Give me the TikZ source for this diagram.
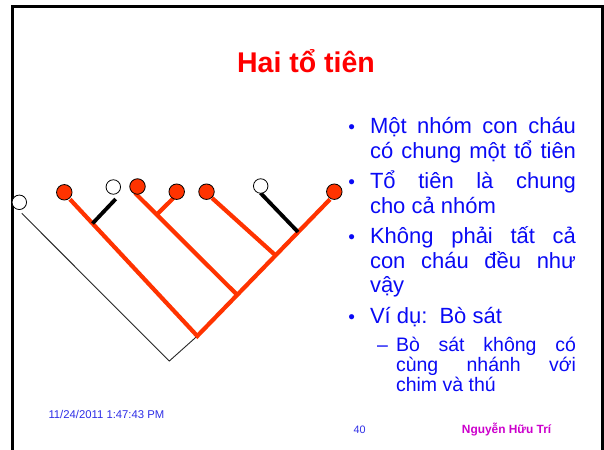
\documentclass[tikz,border=0pt]{standalone}
\usepackage{fontspec}
\setmainfont{Liberation Sans}
\definecolor{treered}{RGB}{255,51,0}
\definecolor{txtblue}{RGB}{10,10,245}
\definecolor{footblue}{RGB}{45,45,230}
\definecolor{authmag}{RGB}{204,0,204}
\definecolor{titlered}{RGB}{255,0,0}
\tikzset{
  redline/.style={draw=treered, line width=4.2pt, line join=miter},
  blackline/.style={draw=black, line width=3.8pt},
  thinline/.style={draw=black!85, line width=0.9pt},
  leafred/.style={circle, draw=black, line width=0.8pt, fill=treered, minimum size=15.5pt, inner sep=0pt},
  leafwhite/.style={circle, draw=black, line width=0.8pt, fill=white, minimum size=14.5pt, inner sep=0pt},
  bodytxt/.style={anchor=base west, inner sep=0pt, outer sep=0pt, text=txtblue, font=\fontsize{22}{25}\selectfont},
  subtxt/.style={anchor=base west, inner sep=0pt, outer sep=0pt, text=txtblue, font=\fontsize{19.5}{20}\selectfont},
  bul/.style={anchor=base, inner sep=0pt, outer sep=0pt, text=txtblue, font=\fontsize{19}{20}\selectfont},
}
\begin{document}
\begin{tikzpicture}[x=1pt,y=-1pt]
\useasboundingbox (0,0) rectangle (604,449);
\clip (0,0) rectangle (604,449);
% slide frame
\draw[line width=3pt] (12.5,6.5) rectangle (602.5,480);

% title
\node[anchor=base, inner sep=0pt, text=titlered, font=\fontsize{28.5}{30}\selectfont\bfseries] (title) at (306,72.3) {Hai tổ tiên};

% tree coordinates
\coordinate (root) at (197.3,336);
\coordinate (t1) at (70,199.3);
\coordinate (t7) at (330,199.3);
\coordinate (t3) at (135,193);
\coordinate (j3) at (237.3,295);
\coordinate (t4) at (173.5,198);
\coordinate (j4) at (156.7,214.7);
\coordinate (t5) at (212,198);
\coordinate (j5) at (275.7,255.5);
\coordinate (t2) at (115.7,199);
\coordinate (j2) at (92.5,223.5);
\coordinate (t6) at (260.5,193);
\coordinate (j6) at (298,232);
\coordinate (t0) at (21.7,213.3);
\coordinate (b0) at (169.3,361);

% outgroup thin line
\draw[thinline] (t0) -- (b0) -- (root);
% red clade
\draw[redline] (t1) -- (root) -- (t7);
\draw[redline] (t3) -- (j3);
\draw[redline] (t4) -- (j4);
\draw[redline] (t5) -- (j5);
% black side branches
\draw[blackline] (t2) -- (j2);
\draw[blackline] (t6) -- (j6);

% leaves
\node[leafwhite] (leaf0) at (19.3,202.3) {};
\node[leafred] (leaf1) at (64.3,192.3) {};
\node[leafwhite] (leaf2) at (113.3,187) {};
\node[leafred] (leaf3) at (137.5,186.5) {};
\node[leafred] (leaf4) at (176.7,191.7) {};
\node[leafred] (leaf5) at (206.5,191.7) {};
\node[leafwhite] (leaf6) at (260.7,186) {};
\node[leafred] (leaf7) at (334.3,191.7) {};

% bullets
\node[bul] (b1) at (351.7,133.3) {•};
\node[bul] (b2) at (351.7,188.3) {•};
\node[bul] (b3) at (351.7,243.3) {•};
\node[bul] (b4) at (351.7,323.3) {•};

% main text
\node[bodytxt] (l1) at (370,133.3) {\makebox[206pt][s]{Một nhóm con cháu}};
\node[bodytxt] (l2) at (370,158.3) {\makebox[206pt][s]{có chung một tổ tiên}};
\node[bodytxt] (l3) at (370,188.3) {\makebox[206pt][s]{Tổ tiên là chung}};
\node[bodytxt] (l4) at (370,213.3) {cho cả nhóm};
\node[bodytxt] (l5) at (370,243.3) {\makebox[206pt][s]{Không phải tất cả}};
\node[bodytxt] (l6) at (370,268.3) {\makebox[206pt][s]{con cháu đều như}};
\node[bodytxt] (l7) at (370,292.7) {vậy};
\node[bodytxt] (l8) at (370,323.3) {Ví dụ:\hspace{0.55em}Bò sát};

% sub bullet
\node[subtxt] (dash) at (377,351.7) {–};
\node[subtxt] (s1) at (396,351.7) {\makebox[180pt][s]{Bò sát không có}};
\node[subtxt] (s2) at (396,371.7) {\makebox[180pt][s]{cùng nhánh với}};
\node[subtxt] (s3) at (396,391.7) {chim và thú};

% footer
\node[anchor=base west, inner sep=0pt, text=footblue, font=\fontsize{11.3}{12}\selectfont] (date) at (48.3,418.3) {11/24/2011 1:47:43 PM};
\node[anchor=base west, inner sep=0pt, text=footblue, font=\fontsize{10.8}{12}\selectfont] (page) at (353.3,433.3) {40};
\node[anchor=base west, inner sep=0pt, text=authmag, font=\fontsize{11.9}{12}\selectfont\bfseries] (author) at (461.7,433.3) {Nguyễn Hữu Trí};
\end{tikzpicture}
\end{document}
